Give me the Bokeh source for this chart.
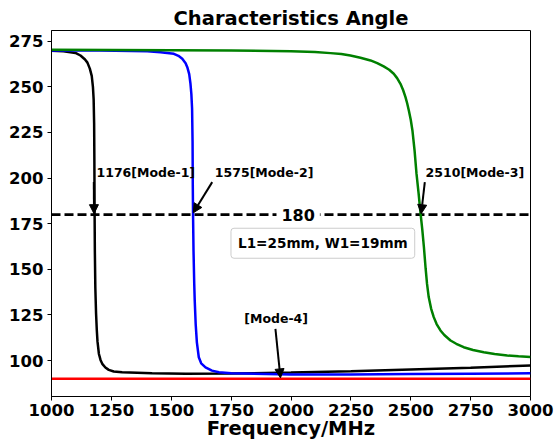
from bokeh.plotting import figure
from bokeh.models import Range1d, Label, Arrow, NormalHead
from bokeh.embed import file_html
from bokeh.resources import INLINE

# ---- data ----
mode1_freq = [1000, 1050, 1100, 1121, 1140, 1150, 1160, 1168, 1173, 1176, 1178, 1179,
              1180, 1181, 1183, 1186, 1189, 1192, 1198, 1205, 1212, 1225, 1239, 1260,
              1295, 1420, 1560, 1750, 2000, 2250, 2500, 2750, 3000]
mode1_angle = [269.8, 269.5, 268.6, 267.2, 265.0, 263.3, 260.0, 256.0, 250.0, 243.0, 230.0, 210.0,
               180.0, 160.0, 140.0, 126.0, 117.0, 110.5, 103.6, 100.2, 98.2, 96.2, 94.9, 94.0,
               93.6, 93.0, 92.8, 92.9, 93.4, 94.1, 95.1, 96.1, 97.3]

mode2_freq = [1000, 1200, 1400, 1455, 1511, 1530, 1546, 1560, 1567, 1575, 1580, 1584,
              1587, 1589, 1590, 1591, 1593, 1596, 1598, 1602, 1607, 1615, 1625, 1643,
              1670, 1699, 1750, 2000, 2250, 2500, 2750, 3000]
mode2_angle = [270.0, 269.9, 269.5, 269.0, 268.1, 267.0, 265.4, 263.0, 260.8, 257.0, 252.0, 246.0,
               238.0, 220.0, 195.0, 180.0, 160.0, 142.0, 133.0, 120.0, 110.0, 101.8, 98.5, 96.3,
               94.5, 93.6, 93.0, 92.4, 92.4, 92.6, 92.8, 93.0]

mode3_freq = [1000, 1250, 1500, 1750, 2000, 2100, 2165, 2210, 2248, 2290, 2332, 2360,
              2387, 2410, 2429, 2443, 2457, 2468, 2478, 2485, 2492, 2500, 2507, 2516,
              2524, 2533, 2541, 2548, 2555, 2562, 2568, 2575, 2585, 2596, 2608, 2624,
              2640, 2666, 2690, 2721, 2760, 2805, 2850, 2903, 2950, 3000]
mode3_angle = [270.3, 270.2, 270.1, 269.9, 269.5, 269.1, 268.5, 268.0, 267.2, 266.0, 264.5, 263.0,
               261.2, 259.4, 257.2, 254.8, 251.7, 248.3, 244.4, 241.0, 237.1, 232.0, 226.1, 215.1,
               202.4, 191.4, 180.5, 172.0, 162.1, 150.6, 142.0, 134.8, 128.5, 123.8, 120.0, 116.5,
               114.0, 111.0, 109.2, 107.3, 105.8, 104.6, 103.6, 102.8, 102.3, 101.9]

mode4_freq = [1000, 3000]
mode4_angle = [90.0, 90.0]

ref_freq = [1000, 3000]
ref_angle = [180, 180]
ref_text = "180"
ref_text_x = 2030

x_ticks = [1000, 1250, 1500, 1750, 2000, 2250, 2500, 2750, 3000]
y_ticks = [100, 125, 150, 175, 200, 225, 250, 275]

ann_text = ["1176[Mode-1]", "1575[Mode-2]", "2510[Mode-3]", "[Mode-4]"]
ann_text_x = [1188, 1682, 2562, 1938]
ann_text_y = [202.8, 202.8, 202.8, 122.9]
ann_align = ["left", "left", "left", "center"]
ann_tail_x = [1176.6, 1671, 2558.7, 1935]
ann_tail_y = [197.8, 197.8, 197.8, 117.4]
ann_tip_x = [1177.5, 1592, 2543.6, 1956]
ann_tip_y = [180.5, 181.0, 180.5, 90.5]

box_text = "L1=25mm, W1=19mm"
box_x = 2133
box_y = 164.3

FONT = "DejaVu Sans"

p = figure(width=556, height=442, output_backend="svg", toolbar_location=None,
           x_range=Range1d(1000, 3000), y_range=Range1d(80.3, 280.9),
           title="Characteristics Angle")
p.min_border_left = 51
p.min_border_right = 26
p.min_border_top = 30
p.min_border_bottom = 46
p.background_fill_color = "white"
p.border_fill_color = "white"
p.outline_line_color = "black"
p.outline_line_width = 1
p.xgrid.visible = False
p.ygrid.visible = False

p.title.align = "center"
p.title.text_font = FONT
p.title.text_font_size = "19.5px"
p.title.text_font_style = "bold"
p.title.text_color = "black"
p.title.standoff = 2

for ax in (p.xaxis, p.yaxis):
    ax.major_label_text_font = FONT
    ax.major_label_text_font_size = "16.5px"
    ax.major_label_text_font_style = "bold"
    ax.major_label_text_color = "black"
    ax.minor_tick_line_color = None
    ax.major_tick_in = 0
    ax.major_tick_out = 4
    ax.axis_line_color = "black"
    ax.major_tick_line_color = "black"
    ax.major_label_standoff = 4

p.xaxis.major_label_standoff = 3
p.xaxis.ticker = x_ticks
p.yaxis.ticker = y_ticks
p.xaxis.axis_label = "Frequency/MHz"
p.xaxis.axis_label_text_font = FONT
p.xaxis.axis_label_text_font_size = "19.5px"
p.xaxis.axis_label_text_font_style = "bold"
p.xaxis.axis_label_text_color = "black"
p.xaxis.axis_label_standoff = -2

p.line(ref_freq, ref_angle, line_color="black", line_width=2.6, line_dash="9 4")
p.line(mode1_freq, mode1_angle, line_color="black", line_width=2.5)
p.line(mode2_freq, mode2_angle, line_color="#0000ff", line_width=2.5)
p.line(mode3_freq, mode3_angle, line_color="#008000", line_width=2.5)
p.line(mode4_freq, mode4_angle, line_color="#ff0000", line_width=2.5)

p.add_layout(Label(x=ref_text_x, y=ref_angle[0], text=ref_text, text_font=FONT,
                   text_font_size="16px", text_font_style="bold", text_align="center",
                   text_color="black",
                   text_baseline="middle", background_fill_color="white", padding=5))

for t, tx, ty, al, x0, y0, x1, y1 in zip(ann_text, ann_text_x, ann_text_y, ann_align,
                                         ann_tail_x, ann_tail_y, ann_tip_x, ann_tip_y):
    p.add_layout(Label(x=tx, y=ty, text=t, text_font=FONT, text_font_size="12.5px",
                       text_color="black",
                       text_font_style="bold", text_align=al, text_baseline="middle"))
    p.add_layout(Arrow(x_start=x0, y_start=y0, x_end=x1, y_end=y1, line_width=2,
                       line_color="black",
                       end=NormalHead(size=9, fill_color="black", line_color="black", line_width=1)))

p.add_layout(Label(x=box_x, y=box_y, text=box_text, text_font=FONT, text_font_size="13.6px",
                   text_color="black",
                   text_font_style="bold", text_align="center", text_baseline="middle",
                   background_fill_color="white", background_fill_alpha=0.8,
                   border_line_color="#cccccc", border_line_width=1, padding=7,
                   border_radius=3))

open("out.html", "w").write(file_html(p, INLINE))
